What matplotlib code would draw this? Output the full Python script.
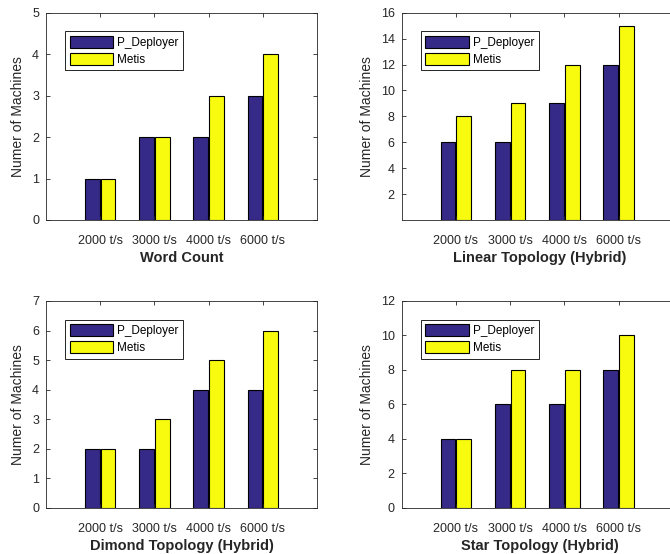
import numpy as np
import matplotlib.pyplot as plt

plt.rcParams['font.family'] = ['Liberation Sans', 'DejaVu Sans']

categories = ["2000 t/s", "3000 t/s", "4000 t/s", "6000 t/s"]
series_names = ["P_Deployer", "Metis"]

word_count_deployer = [1, 2, 2, 3]
word_count_metis = [1, 2, 3, 4]
linear_deployer = [6, 6, 9, 12]
linear_metis = [8, 9, 12, 15]
diamond_deployer = [2, 2, 4, 4]
diamond_metis = [2, 3, 5, 6]
star_deployer = [4, 6, 6, 8]
star_metis = [4, 8, 8, 10]

titles = ["Word Count", "Linear Topology (Hybrid)",
          "Dimond Topology (Hybrid)", "Star Topology (Hybrid)"]

blue = "#352a87"
yellow = "#f9fb0e"
grey = "#262626"

fig = plt.figure(figsize=(6.7, 5.54), dpi=100)

panels = [
    # rect, deployer, metis, ylim, yticks
    ([0.0687, 0.6029, 0.4045, 0.3742], word_count_deployer, word_count_metis, 5, np.arange(0, 6, 1)),
    ([0.5996, 0.6029, 0.4120, 0.3742], linear_deployer, linear_metis, 16, np.arange(2, 17, 2)),
    ([0.0687, 0.0836, 0.4045, 0.3731], diamond_deployer, diamond_metis, 7, np.arange(0, 8, 1)),
    ([0.5996, 0.0836, 0.4120, 0.3731], star_deployer, star_metis, 12, np.arange(0, 13, 2)),
]

x = np.arange(1, len(categories) + 1)
w = 0.27

for i, ((rect, dep, met, ymax, yt), title) in enumerate(zip(panels, titles)):
    ax = fig.add_axes(rect)
    ax.bar(x - 0.145, dep, w, color=blue, edgecolor="black", linewidth=0.8, label=series_names[0])
    ax.bar(x + 0.145, met, w, color=yellow, edgecolor="black", linewidth=0.8, label=series_names[1])
    # right-hand panels run past the figure edge, as in the original
    xmax = 5 * rect[2] / 0.4045
    ax.set_xlim(0, xmax)
    ax.set_ylim(0, ymax)
    ax.set_xticks(x)
    ax.set_xticklabels(categories)
    ax.set_yticks(yt)
    ax.tick_params(direction="in", top=True, right=True, length=3, width=0.6,
                   labelsize=9, colors=grey)
    ax.tick_params(axis="x", pad=11)
    ax.tick_params(axis="y", pad=5)
    for s in ax.spines.values():
        s.set_color(grey)
        s.set_linewidth(0.6)
    ax.set_xlabel(title, fontsize=10.5, fontweight="bold", color=grey, labelpad=3)
    ax.set_ylabel("Numer of Machines", fontsize=10, color=grey, labelpad=5)
    w_leg = 0.07 * 0.4045 / rect[2]
    leg = ax.legend(loc="upper left", bbox_to_anchor=(w_leg, 0.91), borderaxespad=0,
                    fontsize=8.5, fancybox=False, framealpha=1, edgecolor="black",
                    handlelength=3.7, handleheight=1.2, labelspacing=0.3,
                    handletextpad=0.3, borderpad=0.4)
    leg.get_frame().set_linewidth(0.6)

plt.savefig("out.png", dpi=100)
